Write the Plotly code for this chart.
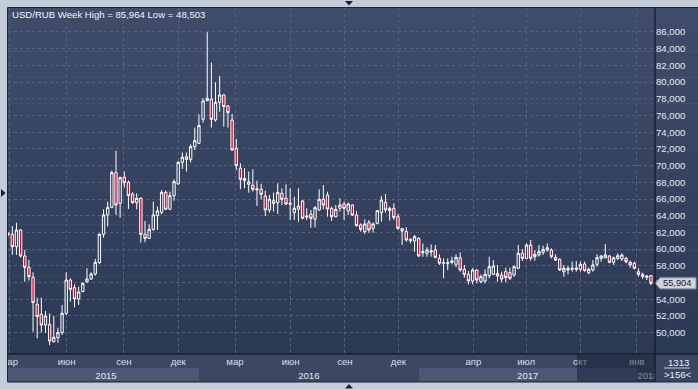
import plotly.graph_objects as go

# ---------------- data (weekly USD/RUB candles) ----------------
open_ = [61.75, 61.77, 60.29, 62.29, 59.18, 57.82, 56.62, 53.39, 52.19, 50.91,
         50.99, 48.92, 49.40, 49.99, 52.31, 56.30, 55.38, 54.03, 54.91, 56.06,
         56.42, 57.02, 58.38, 61.77, 64.09, 65.00, 69.16, 65.48, 68.60, 68.00,
         66.60, 65.56, 66.08, 61.77, 61.29, 62.37, 64.01, 64.41, 66.80, 64.77,
         66.40, 67.80, 70.39, 71.07, 70.75, 72.27, 72.67, 75.54, 77.78, 77.94,
         75.46, 77.58, 78.46, 77.14, 75.46, 72.07, 69.68, 68.48, 67.76, 67.64,
         67.08, 67.16, 66.36, 64.69, 65.80, 65.56, 66.68, 66.08, 65.36, 64.37,
         64.77, 65.76, 63.84, 64.20, 63.57, 64.68, 65.96, 66.48, 64.88, 63.88,
         64.88, 65.40, 64.56, 65.28, 64.08, 62.89, 62.09, 63.17, 62.49, 63.09,
         64.36, 65.60, 64.60, 64.88, 63.88, 62.45, 62.09, 61.01, 60.97, 61.29,
         59.57, 59.49, 59.65, 59.89, 58.89, 58.30, 58.30, 58.42, 58.18, 58.97,
         57.58, 56.98, 56.18, 57.50, 56.10, 56.18, 56.82, 56.98, 57.10, 56.90,
         57.30, 57.18, 56.90, 57.70, 59.49, 58.89, 60.49, 59.09, 59.29, 59.61,
         59.89, 59.89, 59.01, 58.77, 57.30, 57.50, 57.58, 57.58, 57.58, 58.22,
         57.18, 57.50, 58.18, 58.89, 58.97, 59.17, 58.42, 58.89, 58.81, 58.89,
         58.42, 58.30, 57.30, 56.98, 56.62, 56.82]
high = [62.05, 62.77, 63.17, 62.37, 59.90, 58.70, 57.22, 54.19, 54.19, 52.59,
        52.31, 51.99, 50.59, 53.31, 57.22, 56.50, 55.78, 55.50, 56.02, 57.70,
        57.22, 58.82, 61.89, 64.77, 65.68, 69.40, 71.75, 68.68, 69.28, 68.20,
        66.80, 66.68, 66.20, 63.37, 62.97, 65.68, 65.08, 67.08, 67.00, 66.88,
        68.36, 70.55, 71.55, 71.55, 72.55, 74.55, 76.14, 78.06, 85.964, 82.33,
        79.97, 80.73, 78.58, 77.26, 76.18, 73.19, 70.27, 69.68, 69.28, 69.56,
        68.20, 67.80, 67.00, 66.48, 66.76, 67.88, 67.28, 67.76, 67.28, 66.28,
        67.28, 65.88, 64.88, 64.68, 65.16, 67.16, 67.68, 66.88, 65.08, 65.28,
        66.08, 65.68, 65.60, 65.36, 64.56, 63.09, 63.57, 63.49, 63.17, 64.68,
        66.36, 66.60, 65.08, 65.48, 64.20, 62.49, 62.61, 61.29, 61.69, 61.41,
        60.69, 60.21, 60.57, 60.49, 59.37, 58.89, 58.89, 59.09, 59.37, 59.61,
        58.10, 57.38, 57.70, 57.58, 56.98, 57.58, 59.09, 58.69, 58.10, 57.30,
        57.78, 57.78, 58.02, 60.49, 60.01, 60.69, 61.09, 59.89, 60.49, 60.41,
        60.69, 60.09, 59.37, 58.89, 58.10, 57.98, 58.50, 58.57, 58.50, 58.50,
        57.78, 58.69, 59.37, 59.29, 60.61, 59.29, 59.09, 59.49, 59.49, 59.09,
        58.61, 58.50, 57.70, 57.18, 56.90, 56.90]
low = [61.55, 59.30, 59.30, 58.98, 56.10, 56.22, 50.11, 49.32, 49.99, 49.99,
       48.503, 48.80, 48.80, 49.72, 52.11, 53.71, 53.03, 53.31, 54.85, 55.98,
       56.30, 56.82, 58.22, 61.37, 62.69, 64.89, 64.09, 63.77, 67.36, 64.81,
       65.44, 64.77, 60.77, 60.81, 61.21, 62.17, 62.29, 64.17, 64.69, 64.69,
       65.80, 67.76, 69.60, 69.28, 70.39, 71.87, 72.59, 75.14, 77.70, 74.55,
       75.26, 76.46, 74.67, 74.55, 71.75, 69.48, 67.16, 67.28, 66.76, 66.88,
       65.16, 65.96, 63.97, 64.37, 64.49, 64.21, 65.28, 65.28, 63.49, 63.49,
       63.29, 63.57, 63.49, 62.57, 62.61, 64.60, 64.76, 63.88, 63.37, 63.80,
       64.48, 63.49, 64.08, 63.96, 62.69, 62.09, 61.81, 61.97, 61.97, 62.97,
       63.29, 64.36, 63.41, 63.49, 62.29, 60.49, 60.89, 60.69, 59.69, 59.09,
       59.09, 59.09, 59.09, 58.89, 58.10, 56.50, 57.50, 58.18, 57.82, 57.30,
       56.58, 55.78, 55.78, 55.90, 55.90, 55.90, 56.50, 56.90, 56.10, 56.02,
       56.02, 56.30, 56.70, 57.62, 58.57, 58.77, 58.61, 58.61, 59.09, 59.29,
       59.69, 58.89, 58.57, 57.38, 56.70, 56.98, 57.30, 57.30, 57.30, 57.30,
       56.98, 57.30, 57.90, 58.50, 58.89, 58.30, 58.10, 58.69, 58.57, 58.30,
       57.78, 57.58, 56.70, 56.42, 56.30, 55.70]
close = [61.85, 60.29, 62.29, 59.18, 57.82, 56.70, 53.59, 51.91, 50.91, 51.99,
         49.00, 49.44, 50.03, 52.31, 56.30, 55.18, 54.03, 54.87, 55.90, 56.42,
         57.02, 58.42, 61.77, 64.09, 65.00, 69.16, 65.28, 68.56, 67.96, 66.40,
         65.56, 66.08, 61.77, 61.29, 62.37, 64.09, 64.57, 66.80, 64.77, 66.40,
         68.08, 70.39, 70.99, 70.75, 72.27, 72.99, 74.79, 77.74, 78.06, 75.54,
         77.58, 78.46, 77.06, 76.34, 71.87, 69.99, 68.36, 68.20, 68.04, 67.16,
         67.20, 66.56, 64.69, 65.96, 65.48, 66.80, 65.96, 65.40, 65.48, 64.89,
         65.17, 63.69, 63.96, 63.69, 64.96, 65.96, 65.28, 64.80, 63.88, 64.76,
         65.28, 64.88, 65.40, 64.08, 62.81, 62.37, 63.01, 62.29, 63.01, 64.60,
         65.88, 64.68, 64.88, 63.80, 62.49, 62.17, 61.09, 61.17, 61.49, 59.17,
         59.69, 59.89, 59.77, 59.01, 58.30, 58.38, 58.38, 58.57, 59.01, 57.50,
         56.98, 56.18, 57.50, 56.30, 56.70, 56.98, 57.90, 57.98, 56.78, 56.42,
         56.58, 56.50, 57.90, 59.49, 58.89, 60.49, 58.89, 59.37, 59.69, 59.97,
         60.17, 59.09, 58.69, 57.50, 57.70, 57.70, 57.70, 57.70, 58.18, 57.42,
         57.58, 58.10, 58.97, 59.17, 59.29, 58.42, 58.97, 59.21, 59.29, 58.50,
         58.10, 57.70, 56.98, 56.70, 56.78, 55.904]

month_labels = ["мар", "июн", "сен", "дек", "мар", "июн", "сен", "дек",
                "апр", "июл", "окт", "янв"]
month_pos = [0.3, 14.1, 27.9, 41.0, 54.7, 68.1, 81.2, 94.1, 112.2, 124.9, 137.9, 151.6]
year_labels = ["2015", "2016", "2017", "2018"]
year_start = [-0.04, 46.0, 99.07, 151.6]
year_label_pos = [23.6, 72.5, 125.3, 154.3]
y_ticks = [50, 52, 54, 56, 58, 60, 62, 64, 66, 68, 70, 72, 74, 76, 78, 80, 82, 84, 86]

# ---------------- geometry helpers (pixel -> paper) ----------------
W, H = 698, 389
L, R, T, B = 8, 655, 8, 354
XR = [-0.04, 155.98]
YR = [47.44, 88.87]


def px(x):
    return (x - L) / (R - L)


def py(y):
    return (B - y) / (B - T)


def kx(k):
    return (k - XR[0]) / (XR[1] - XR[0])


def fmt(v):
    return f"{v:.3f}".replace(".", ",")


xs = list(range(len(close)))

fig = go.Figure()
fig.add_trace(go.Candlestick(
    x=xs, open=open_, high=high, low=low, close=close,
    increasing=dict(line=dict(color="#ffffff", width=1), fillcolor="#34415e"),
    decreasing=dict(line=dict(color="#ffffff", width=1), fillcolor="#e8002c"),
    whiskerwidth=0, showlegend=False, hoverinfo="skip",
))
fig.add_trace(go.Scatter(x=[], y=[], xaxis="x2", showlegend=False, hoverinfo="skip"))

shapes = []
# gradient background of chart + right panel
N = 40
top_c = (64, 77, 106)
bot_c = (44, 57, 85)
for i in range(N):
    t = (i + 0.5) / N
    c = tuple(round(top_c[j] + (bot_c[j] - top_c[j]) * t) for j in range(3))
    y0 = T + (B - T) * i / N
    y1 = T + (B - T) * (i + 1) / N + 0.6
    shapes.append(dict(type="rect", xref="paper", yref="paper", layer="below",
                       x0=px(L), x1=px(W), y0=py(y0), y1=py(min(y1, B)),
                       fillcolor="rgb(%d,%d,%d)" % c, line=dict(width=0)))
# bottom time strip
shapes.append(dict(type="rect", xref="paper", yref="paper", layer="below",
                   x0=px(L), x1=px(R), y0=py(B), y1=py(382),
                   fillcolor="#3b4863", line=dict(width=0)))
# alternating year bands (2015, 2017)
for i in (0, 2):
    shapes.append(dict(type="rect", xref="paper", yref="paper", layer="below",
                       x0=kx(year_start[i]), x1=kx(year_start[i + 1]),
                       y0=py(368), y1=py(381),
                       fillcolor="#4a5875", line=dict(width=0)))
# dark navigator overlay at the end of time strip
shapes.append(dict(type="rect", xref="paper", yref="paper", layer="above",
                   x0=px(577), x1=px(R), y0=py(355), y1=py(382),
                   fillcolor="rgba(18,27,46,0.45)", line=dict(width=0)))
# bottom-right info box (covers overflowing year label)
shapes.append(dict(type="rect", xref="paper", yref="paper", layer="above",
                   x0=px(R), x1=px(W), y0=py(B), y1=py(382),
                   fillcolor="#394661", line=dict(width=0)))
# left frame cover (clips month label)
shapes.append(dict(type="rect", xref="paper", yref="paper", layer="above",
                   x0=px(0), x1=px(L - 0.5), y0=py(H), y1=py(0),
                   fillcolor="#c3cdd9", line=dict(width=0)))
# black axis lines
shapes.append(dict(type="line", xref="paper", yref="paper", layer="above",
                   x0=px(L), x1=px(W), y0=py(B), y1=py(B),
                   line=dict(color="#0a0e16", width=1)))
shapes.append(dict(type="line", xref="paper", yref="paper", layer="above",
                   x0=px(R), x1=px(R), y0=py(T), y1=py(382),
                   line=dict(color="#0a0e16", width=1)))
# outer border of the dark panel
shapes.append(dict(type="rect", xref="paper", yref="paper", layer="above",
                   x0=px(L - 0.5), x1=px(W + 2), y0=py(382), y1=py(T - 0.5),
                   line=dict(color="#1c2435", width=1)))
# separator in info box
shapes.append(dict(type="line", xref="paper", yref="paper", layer="above",
                   x0=px(664), x1=px(690), y0=py(368), y1=py(368),
                   line=dict(color="#c3cbd6", width=1)))
# last price tag
c_last = close[-1]
hh = 0.66
shapes.append(dict(type="path", xref="paper", yref="y", layer="above",
                   path=f"M {px(655.5)},{c_last} L {px(660)},{c_last + hh} L {px(696)},{c_last + hh} "
                        f"L {px(696)},{c_last - hh} L {px(660)},{c_last - hh} Z",
                   fillcolor="#cfd5de", line=dict(color="#8f99aa", width=1)))
# little arrows on frame
tri = "#1b2233"
shapes.append(dict(type="path", xref="paper", yref="paper", layer="above",
                   path=f"M {px(345)},{py(1)} L {px(353)},{py(1)} L {px(349)},{py(5.5)} Z",
                   fillcolor=tri, line=dict(width=0)))
shapes.append(dict(type="path", xref="paper", yref="paper", layer="above",
                   path=f"M {px(1)},{py(189)} L {px(1)},{py(197)} L {px(5.5)},{py(193)} Z",
                   fillcolor=tri, line=dict(width=0)))
shapes.append(dict(type="path", xref="paper", yref="paper", layer="above",
                   path=f"M {px(345)},{py(388.5)} L {px(353)},{py(388.5)} L {px(349)},{py(384)} Z",
                   fillcolor=tri, line=dict(width=0)))

FONT = "Liberation Sans, Arial, sans-serif"
FS = 9.6
annotations = [
    dict(xref="paper", yref="paper", x=px(10), y=py(15), xanchor="left", yanchor="middle",
         showarrow=False, text=f"USD/RUB Week High = {fmt(max(high))} Low = {fmt(min(low))}",
         font=dict(family=FONT, size=FS, color="#f2f4f8")),
    dict(xref="paper", yref="y", x=px(677), y=c_last, xanchor="center", yanchor="middle",
         showarrow=False, text=fmt(c_last), font=dict(family=FONT, size=FS - 0.3, color="#151b29")),
    dict(xref="paper", yref="paper", x=px(678), y=py(362), xanchor="center", yanchor="middle",
         showarrow=False, text="1313", font=dict(family=FONT, size=FS, color="#e8edf3")),
    dict(xref="paper", yref="paper", x=px(678), y=py(374.5), xanchor="center", yanchor="middle",
         showarrow=False, text=f">{len(close)}<", font=dict(family=FONT, size=FS, color="#e8edf3")),
]

grid = "#56627d"
fig.update_layout(
    width=W, height=H,
    margin=dict(l=L, r=W - R, t=T, b=H - B, pad=0),
    paper_bgcolor="#c3cdd9",
    plot_bgcolor="rgba(0,0,0,0)",
    separators=", ",
    hovermode=False,
    showlegend=False,
    boxgap=0.25,
    boxgroupgap=0.25,
    shapes=shapes,
    annotations=annotations,
    font=dict(family=FONT, size=FS, color="#e4e9f0"),
    xaxis=dict(
        range=XR, type="linear", rangeslider=dict(visible=False),
        tickmode="array", tickvals=month_pos, ticktext=month_labels,
        showgrid=True, gridcolor=grid, griddash="3px,3px", gridwidth=1,
        zeroline=False, showline=False, ticks="", automargin=False,
        tickfont=dict(family=FONT, size=FS, color="#d8dfe9"),
        fixedrange=True,
    ),
    xaxis2=dict(
        range=XR, overlaying="x", side="bottom", anchor="y",
        tickmode="array", tickvals=year_label_pos, ticktext=year_labels,
        showgrid=False, zeroline=False, showline=False, automargin=False,
        ticks="outside", ticklen=12, tickcolor="rgba(0,0,0,0)",
        tickfont=dict(family=FONT, size=FS, color="#e2e7ee"),
        fixedrange=True,
    ),
    yaxis=dict(
        range=YR, side="right", tickmode="array", tickvals=y_ticks,
        tickformat=".3f", automargin=False,
        showgrid=True, gridcolor=grid, griddash="3px,3px", gridwidth=1,
        zeroline=False, showline=False, ticks="",
        tickfont=dict(family=FONT, size=FS, color="#e4e9f0"),
        fixedrange=True,
    ),
)

fig.write_html(
    "out.html",
    config={"displayModeBar": False},
    post_script="document.body.style.margin='0';document.body.style.overflow='hidden';",
)
